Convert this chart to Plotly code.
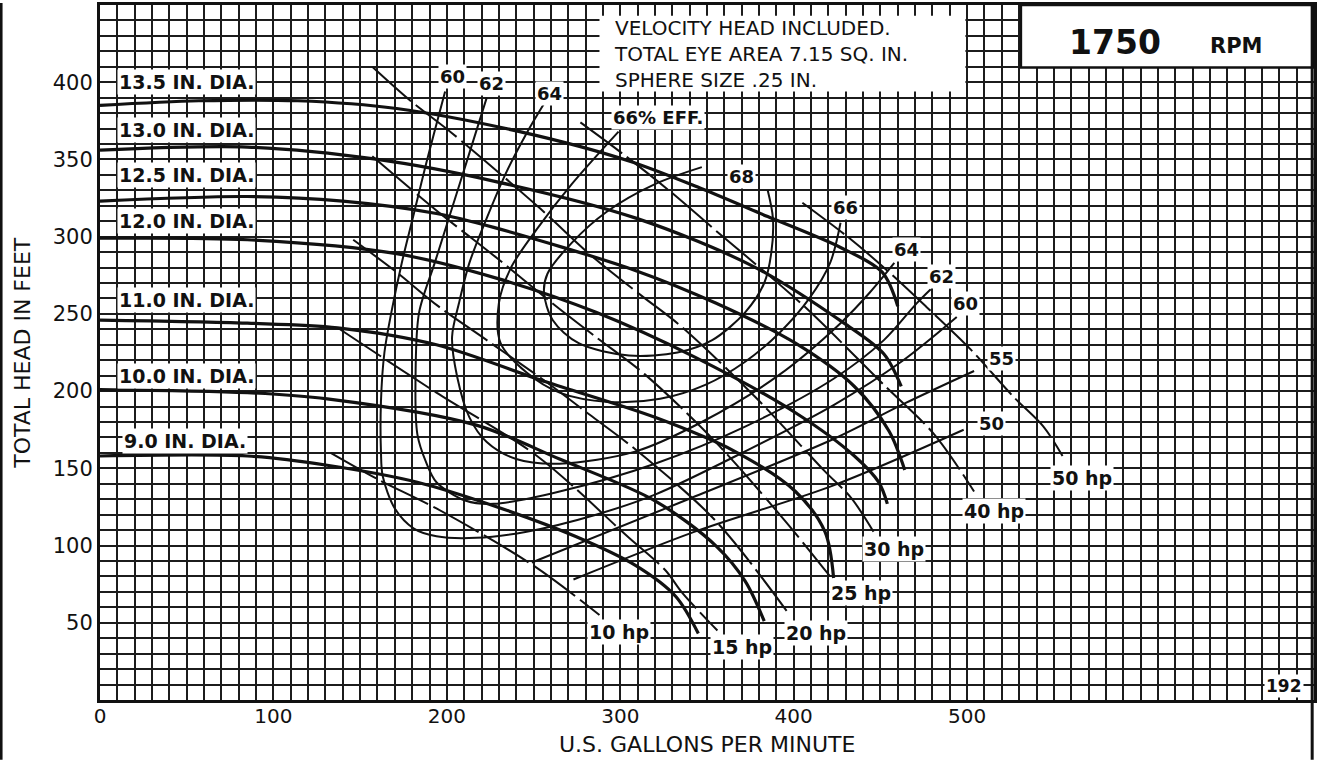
import plotly.graph_objects as go

FONT = "DejaVu Sans, Liberation Sans, Arial, sans-serif"
INK = "#111111"

# ---- Head-capacity curves per impeller diameter (flow in US gpm, head in ft)
q_135 = [0, 57, 114, 171, 242, 305, 347, 385, 427, 451, 460]
h_135 = [385, 388, 388, 383, 368, 349, 331, 313, 293, 277, 255]
q_130 = [0, 85, 160, 227, 309, 378, 429, 452, 462]
h_130 = [356, 358, 350, 336, 312, 280, 244, 224, 203]
q_125 = [0, 85, 140, 194, 227, 309, 355, 401, 435, 455, 464]
h_125 = [323, 326, 323, 315, 306, 278, 257, 231, 203, 174, 149]
q_120 = [0, 85, 171, 229, 286, 343, 401, 435, 449, 454]
h_120 = [299, 298, 289, 273, 251, 222, 186, 158, 141, 127]
q_110 = [0, 85, 137, 194, 257, 320, 366, 401, 418, 423]
h_110 = [246, 244, 241, 230, 206, 183, 161, 135, 109, 79]
q_100 = [0, 85, 131, 217, 265, 320, 355, 372, 383]
h_100 = [201, 199, 195, 178, 156, 129, 100, 77, 51]
q_090 = [0, 85, 131, 183, 229, 274, 309, 332, 345]
h_090 = [158, 158, 152, 141, 125, 106, 87, 67, 43]

dia_names = ["13.5 IN. DIA.", "13.0 IN. DIA.", "12.5 IN. DIA.", "12.0 IN. DIA.",
             "11.0 IN. DIA.", "10.0 IN. DIA.", "9.0 IN. DIA."]

# ---- Efficiency contours (%)
q_e60 = [199, 188, 181, 174, 168, 164, 162, 162, 163, 170, 181, 194, 217, 246, 286, 320, 372, 423, 462, 494]
h_e60 = [394, 347, 315, 283, 251, 225, 193, 161, 145, 124, 111, 106, 105, 109, 120, 133, 161, 191, 219, 248]
q_e62 = [223, 211, 202, 193, 184, 182, 183, 188, 194, 211, 227, 265, 320, 372, 423, 452, 471, 479]
h_e62 = [390, 347, 315, 283, 251, 214, 172, 154, 141, 129, 127, 135, 153, 177, 208, 233, 257, 266]
q_e64 = [256, 246, 234, 223, 213, 207, 203, 206, 213, 223, 240, 265, 309, 347, 391, 427, 444, 458]
h_e64 = [386, 367, 341, 312, 283, 257, 235, 209, 183, 167, 156, 153, 161, 180, 210, 244, 264, 283]
q_e66 = [299, 272, 252, 237, 230, 231, 246, 265, 293, 323, 349, 372, 392, 409, 421, 427]
h_e66 = [368, 334, 305, 280, 257, 231, 212, 199, 193, 195, 204, 219, 238, 260, 283, 309]
q_e68 = [347, 320, 292, 272, 258, 256, 261, 276, 305, 333, 353, 372, 383, 387, 388, 385]
h_e68 = [345, 334, 316, 296, 276, 264, 246, 231, 223, 225, 233, 251, 270, 289, 312, 330]
q_e55 = [249, 337, 423, 464, 504]
h_e55 = [89, 129, 169, 192, 213]
q_e50 = [273, 343, 423, 498]
h_e50 = [78, 109, 139, 175]

# ---- Brake horsepower lines
q_hp50 = [405, 431, 454, 477, 502, 527, 544, 555]
h_hp50 = [322, 300, 278, 254, 227, 196, 177, 158]
q_hp40 = [277, 301, 328, 355, 405, 452, 481, 504]
h_hp40 = [374, 354, 330, 304, 256, 204, 172, 135]
q_hp30 = [157, 179, 203, 254, 282, 312, 335, 378, 418, 433, 446]
h_hp30 = [410, 388, 367, 318, 289, 262, 242, 196, 148, 131, 109]
q_hp25 = [157, 194, 229, 263, 286, 314, 355, 395, 421]
h_hp25 = [352, 317, 286, 255, 235, 211, 167, 116, 80]
q_hp20 = [146, 171, 195, 223, 256, 282, 309, 355, 397]
h_hp20 = [298, 277, 255, 233, 207, 185, 162, 116, 56]
q_hp15 = [137, 194, 252, 305, 326, 336, 356]
h_hp15 = [241, 199, 158, 105, 84, 69, 45]
q_hp10 = [133, 160, 194, 250, 288]
h_hp10 = [160, 143, 124, 87, 55]

x_ticks = [0, 100, 200, 300, 400, 500]
y_ticks = [50, 100, 150, 200, 250, 300, 350, 400]

notes = ["VELOCITY HEAD INCLUDED.", "TOTAL EYE AREA 7.15 SQ. IN.", "SPHERE SIZE .25 IN."]

fig = go.Figure()


def add_curve(q, h, width, dash="solid"):
    fig.add_trace(go.Scatter(
        x=q, y=h, mode="lines", hoverinfo="skip", showlegend=False,
        line=dict(color=INK, width=width, dash=dash, shape="spline", smoothing=0.9),
    ))


for q, h in [(q_hp50, h_hp50), (q_hp40, h_hp40), (q_hp30, h_hp30), (q_hp25, h_hp25),
             (q_hp20, h_hp20), (q_hp15, h_hp15), (q_hp10, h_hp10)]:
    add_curve(q, h, 2.0, dash="52px,6px")

for q, h in [(q_e60, h_e60), (q_e62, h_e62), (q_e64, h_e64), (q_e66, h_e66),
             (q_e68, h_e68), (q_e55, h_e55), (q_e50, h_e50)]:
    add_curve(q, h, 2.0)

for q, h in [(q_135, h_135), (q_130, h_130), (q_125, h_125), (q_120, h_120),
             (q_110, h_110), (q_100, h_100), (q_090, h_090)]:
    add_curve(q, h, 3.2)

annotations = []


def label(text, x, y, size, bold=True, xanchor="center", **kw):
    annotations.append(dict(
        text=f"<b>{text}</b>" if bold else text, x=x, y=y, xref="x", yref="y",
        showarrow=False, xanchor=xanchor, yanchor="middle",
        font=dict(family=FONT, size=size, color=INK),
        bgcolor="white", borderpad=1, **kw))


# diameter labels along the left edge
for name, (lx, ly) in zip(dia_names, [(9.8, 400), (9.8, 369), (9.8, 340), (9.8, 310),
                                      (9.8, 259), (9.8, 210), (12.7, 168)]):
    label(name, lx, ly, 19, xanchor="left")

# efficiency labels
for txt, lx, ly in [("60", 203, 404), ("62", 226, 399), ("64", 259, 393),
                    ("66% EFF.", 322, 377), ("68", 370, 339), ("66", 430, 319),
                    ("64", 465, 292), ("62", 485, 274), ("60", 499, 257),
                    ("55", 520, 221), ("50", 514, 179)]:
    label(txt, lx, ly, 18)

# horsepower labels
for txt, lx, ly in [("10 hp", 299.5, 43.8), ("15 hp", 370.4, 34.2), ("20 hp", 413, 43.2),
                    ("25 hp", 439, 69), ("30 hp", 458, 98), ("40 hp", 515.6, 122.5),
                    ("50 hp", 566.2, 143.8)]:
    label(txt, lx, ly, 19)

label("192", 682.6, 9, 17)

# notes block
annotations.append(dict(text="<br>".join(notes), x=295.5, y=418, xref="x", yref="y",
                        showarrow=False, xanchor="left", yanchor="middle", align="left",
                        font=dict(family=FONT, size=20, color=INK)))

annotations.append(dict(text="<b>1750</b>", x=585, y=426, xref="x", yref="y",
                        showarrow=False, font=dict(family=FONT, size=33, color=INK)))
annotations.append(dict(text="<b>RPM</b>", x=655, y=423.5, xref="x", yref="y",
                        showarrow=False, font=dict(family=FONT, size=21, color=INK)))

# axis titles
annotations.append(dict(text="U.S. GALLONS PER MINUTE", x=0.5, y=-0.0852, xref="paper",
                        yref="paper", showarrow=False, xanchor="center", yanchor="bottom",
                        font=dict(family=FONT, size=22, color=INK)))
annotations.append(dict(text="TOTAL HEAD IN FEET", x=-0.064, y=0.5, xref="paper",
                        yref="paper", showarrow=False, textangle=-90, xanchor="center",
                        yanchor="middle", font=dict(family=FONT, size=22, color=INK)))

shapes = [
    # notes block background
    dict(type="rect", xref="x", yref="y", x0=288, x1=499, y0=394, y1=443,
         fillcolor="white", line=dict(width=0), layer="above"),
    # speed box
    dict(type="rect", xref="x", yref="y", x0=531, x1=700, y0=409.5, y1=450,
         fillcolor="white", line=dict(color=INK, width=2.5), layer="above"),
    # sheet frame
    dict(type="line", xref="paper", yref="paper", x0=-0.0815, x1=-0.0815, y0=-0.086, y1=1.003,
         line=dict(color=INK, width=3)),
    dict(type="line", xref="paper", yref="paper", x0=0.9985, x1=0.9985, y0=-0.086, y1=1.003,
         line=dict(color=INK, width=3)),
]

grid = dict(showgrid=True, gridcolor="#1c1c1c", gridwidth=1.5)

fig.update_layout(
    width=1319, height=760,
    margin=dict(l=100, r=4, t=2, b=60),
    paper_bgcolor="white", plot_bgcolor="white",
    font=dict(family=FONT, color=INK),
    xaxis=dict(range=[0, 700], tickvals=x_ticks, ticks="", zeroline=False,
               showline=True, linecolor=INK, linewidth=3, mirror=True,
               ticklabelstandoff=-4,
               tickfont=dict(family=FONT, size=20, color=INK),
               minor=dict(tickmode="linear", tick0=0, dtick=10, **grid), **grid),
    yaxis=dict(range=[0, 450], tickvals=y_ticks, ticks="", zeroline=False,
               showline=True, linecolor=INK, linewidth=3, mirror=True,
               tickfont=dict(family=FONT, size=21, color=INK),
               minor=dict(tickmode="linear", tick0=0, dtick=10, **grid), **grid),
    annotations=annotations,
    shapes=shapes,
)

fig.write_html("out.html")
